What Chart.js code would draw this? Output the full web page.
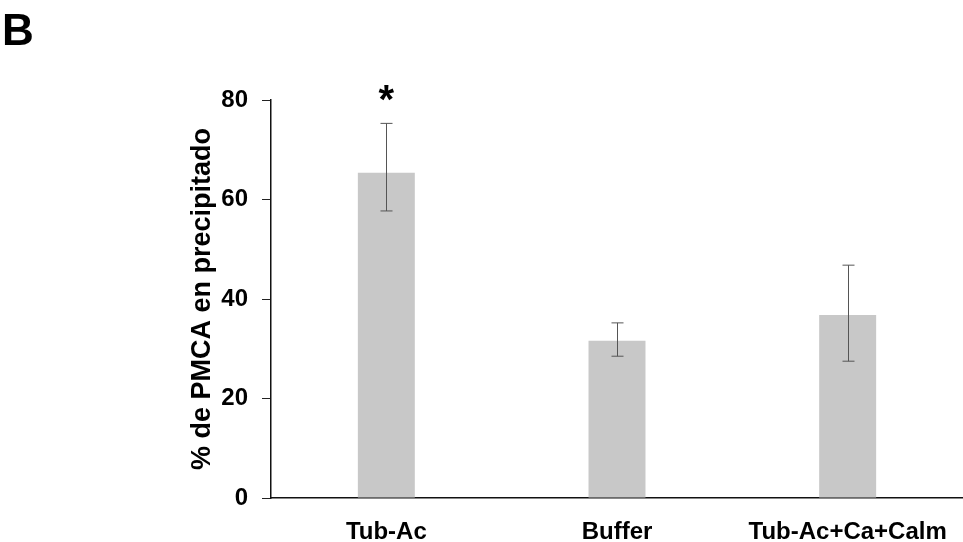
<!DOCTYPE html>
<html>
<head>
<meta charset="utf-8">
<script src="https://cdn.jsdelivr.net/npm/chart.js@4"></script>
<style>
  body { margin: 0; background: #fff; }
  #wrap { position: relative; width: 963px; height: 542px; }
  #panel { position: absolute; left: 2px; top: 5px; font: bold 44px "Liberation Sans", Arial, sans-serif; color: #000; }
</style>
</head>
<body>
<div id="wrap">
  <canvas id="myChart" width="963" height="542"></canvas>
  <div id="panel">B</div>
</div>
<script>
const categories = ['Tub-Ac', 'Buffer', 'Tub-Ac+Ca+Calm'];
const values = [65.4, 31.6, 36.8];
const errUpper = [75.3, 35.2, 46.8];
const errLower = [57.7, 28.5, 27.5];
const marks = ['*', '', ''];
const yTicks = [0, 20, 40, 60, 80];

const FONT = '"Liberation Sans", Arial, sans-serif';

// error bars + significance mark, placed through the scales
const errorBars = {
  id: 'errorBars',
  afterDatasetsDraw(chart) {
    const ctx = chart.ctx;
    const y = chart.scales.y;
    const meta = chart.getDatasetMeta(0);
    ctx.save();
    ctx.strokeStyle = '#555';
    ctx.lineWidth = 1;
    meta.data.forEach((bar, i) => {
      const x = Math.round(bar.x) + 0.5;
      const top = y.getPixelForValue(errUpper[i]);
      const bot = y.getPixelForValue(errLower[i]);
      ctx.beginPath();
      ctx.moveTo(x, top);
      ctx.lineTo(x, bot);
      ctx.moveTo(x - 6, top);
      ctx.lineTo(x + 6, top);
      ctx.moveTo(x - 6, bot);
      ctx.lineTo(x + 6, bot);
      ctx.stroke();
      if (marks[i]) {
        ctx.fillStyle = '#000';
        ctx.font = 'bold 40px ' + FONT;
        ctx.textAlign = 'center';
        ctx.textBaseline = 'alphabetic';
        ctx.fillText(marks[i], bar.x, top - 10);
      }
    });
    ctx.restore();
  }
};

new Chart(document.getElementById('myChart'), {
  type: 'bar',
  data: {
    labels: categories,
    datasets: [{
      data: values,
      backgroundColor: '#c8c8c8',
      borderWidth: 0,
      categoryPercentage: 1,
      barPercentage: 0.247
    }]
  },
  options: {
    responsive: false,
    animation: false,
    layout: { padding: { left: 186, top: 100, right: 0, bottom: 0 } },
    plugins: { legend: { display: false }, tooltip: { enabled: false } },
    scales: {
      x: {
        grid: { display: false, drawTicks: false },
        border: { display: true, color: '#111', width: 1.5 },
        ticks: { color: '#000', padding: 20, maxRotation: 0, font: { family: FONT, size: 24, weight: 'bold' } },
        afterFit(scale) {
          scale.height = 44;
          scale.paddingLeft = 0;
          scale.paddingRight = 0;
        }
      },
      y: {
        min: 0,
        max: 80,
        afterBuildTicks(scale) { scale.ticks = yTicks.map(v => ({ value: v })); },
        grid: { drawOnChartArea: false, drawTicks: true, tickLength: 9, color: '#222' },
        border: { display: true, color: '#111', width: 1.5 },
        ticks: { color: '#000', padding: 14, font: { family: FONT, size: 24, weight: 'bold' } },
        title: {
          display: true,
          text: '% de PMCA en precipitado',
          color: '#000',
          padding: 0,
          font: { family: FONT, size: 27, weight: 'bold' }
        },
        afterFit(scale) { scale.width = 85; }
      }
    }
  },
  plugins: [errorBars]
});
</script>
</body>
</html>
